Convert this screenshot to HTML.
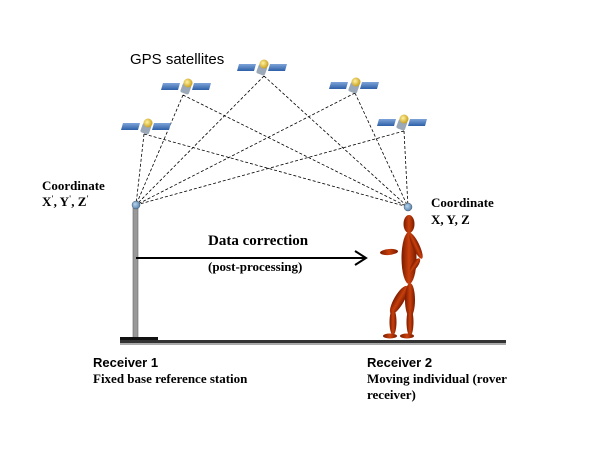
<!DOCTYPE html>
<html><head><meta charset="utf-8"><style>
html,body{margin:0;padding:0;background:#fff;}
svg{display:block;}
.t{font-family:"Liberation Serif",serif;font-weight:bold;fill:#000;}
.s{font-family:"Liberation Sans",sans-serif;fill:#000;}
</style></head><body>
<svg width="600" height="450" viewBox="0 0 600 450">
<defs>
<linearGradient id="pan" x1="0" y1="0" x2="0" y2="1"><stop offset="0" stop-color="#7ea4d8"/><stop offset="1" stop-color="#2d5fa8"/></linearGradient>
<radialGradient id="gold" cx="0.4" cy="0.4" r="0.6"><stop offset="0" stop-color="#fff3a0"/><stop offset="1" stop-color="#c9a020"/></radialGradient>
<radialGradient id="ant" cx="0.4" cy="0.4" r="0.6"><stop offset="0" stop-color="#b8d4ec"/><stop offset="1" stop-color="#5a86b0"/></radialGradient>
<linearGradient id="body" x1="0" y1="0" x2="1" y2="0"><stop offset="0" stop-color="#7a1a00"/><stop offset="0.5" stop-color="#c8400c"/><stop offset="1" stop-color="#7a1a00"/></linearGradient>
<g id="sat">
<polygon points="-24,-4 -7,-4 -9,3 -26,3" fill="url(#pan)"/>
<polygon points="7,-4 24,-4 22,3 5,3" fill="url(#pan)"/>
<rect x="-5" y="-3" width="9" height="10" rx="2" fill="#9aa8b8" transform="rotate(20)"/>
<circle cx="1" cy="-4" r="4.5" fill="url(#gold)"/>
</g>
</defs>
<text x="130" y="64" class="s" font-size="15">GPS satellites</text>
<g stroke="#000" stroke-width="0.8" stroke-dasharray="3,2" fill="none">
<path d="M144,134 L136,205 M144,134 L408,207"/>
<path d="M183,95 L136,205 M183,95 L408,207"/>
<path d="M264,76 L136,205 M264,76 L408,207"/>
<path d="M355,93 L136,205 M355,93 L408,207"/>
<path d="M404,131 L136,205 M404,131 L408,207"/>
</g>
<use href="#sat" x="147" y="127"/>
<use href="#sat" x="187" y="87"/>
<use href="#sat" x="263" y="68"/>
<use href="#sat" x="355" y="86"/>
<use href="#sat" x="403" y="123"/>
<rect x="133" y="206" width="5" height="134" fill="#999" stroke="#666" stroke-width="0.6"/>
<rect x="120" y="337" width="38" height="3" fill="#111"/>
<rect x="120" y="340" width="386" height="3" fill="#333"/>
<rect x="120" y="343" width="386" height="2" fill="#aaa"/>
<circle cx="136" cy="205" r="4" fill="url(#ant)" stroke="#456" stroke-width="0.5"/>
<circle cx="408" cy="207" r="4" fill="url(#ant)" stroke="#456" stroke-width="0.5"/>
<!-- figure -->
<g fill="url(#body)">
<ellipse cx="409" cy="224" rx="5.5" ry="9"/>
<ellipse cx="409" cy="258" rx="7.5" ry="26"/>
<ellipse cx="389" cy="252" rx="9" ry="3" transform="rotate(-5 389 252)"/>
<ellipse cx="416" cy="246" rx="3.5" ry="14" transform="rotate(-25 416 246)"/>
<ellipse cx="415" cy="265" rx="3" ry="8" transform="rotate(35 415 265)"/>
<ellipse cx="399" cy="300" rx="5" ry="16" transform="rotate(30 399 300)"/>
<ellipse cx="393" cy="322" rx="3.5" ry="13"/>
<ellipse cx="410" cy="300" rx="5" ry="17"/>
<ellipse cx="410" cy="322" rx="3.5" ry="14"/>
<ellipse cx="390" cy="336" rx="7" ry="2.5"/>
<ellipse cx="407" cy="336" rx="7" ry="2.5"/>
</g>
<line x1="136" y1="258" x2="365" y2="258" stroke="#000" stroke-width="2"/>
<path d="M355,251 L366,258 L355,265" fill="none" stroke="#000" stroke-width="2"/>
<text x="208" y="245" class="t" font-size="15">Data correction</text>
<text x="208" y="271" class="t" font-size="13">(post-processing)</text>
<text x="42" y="190" class="t" font-size="13">Coordinate</text>
<text x="42" y="206" class="t" font-size="13">X<tspan font-size="8" dy="-5">'</tspan><tspan dy="5">, Y</tspan><tspan font-size="8" dy="-5">'</tspan><tspan dy="5">, Z</tspan><tspan font-size="8" dy="-5">'</tspan></text>
<text x="431" y="207" class="t" font-size="13">Coordinate</text>
<text x="431" y="224" class="t" font-size="13">X, Y, Z</text>
<text x="93" y="367" class="s" font-size="13" font-weight="bold">Receiver 1</text>
<text x="93" y="383" class="t" font-size="13">Fixed base reference station</text>
<text x="367" y="367" class="s" font-size="13" font-weight="bold">Receiver 2</text>
<text x="367" y="383" class="t" font-size="13">Moving individual (rover</text>
<text x="367" y="399" class="t" font-size="13">receiver)</text>
</svg>
</body></html>
